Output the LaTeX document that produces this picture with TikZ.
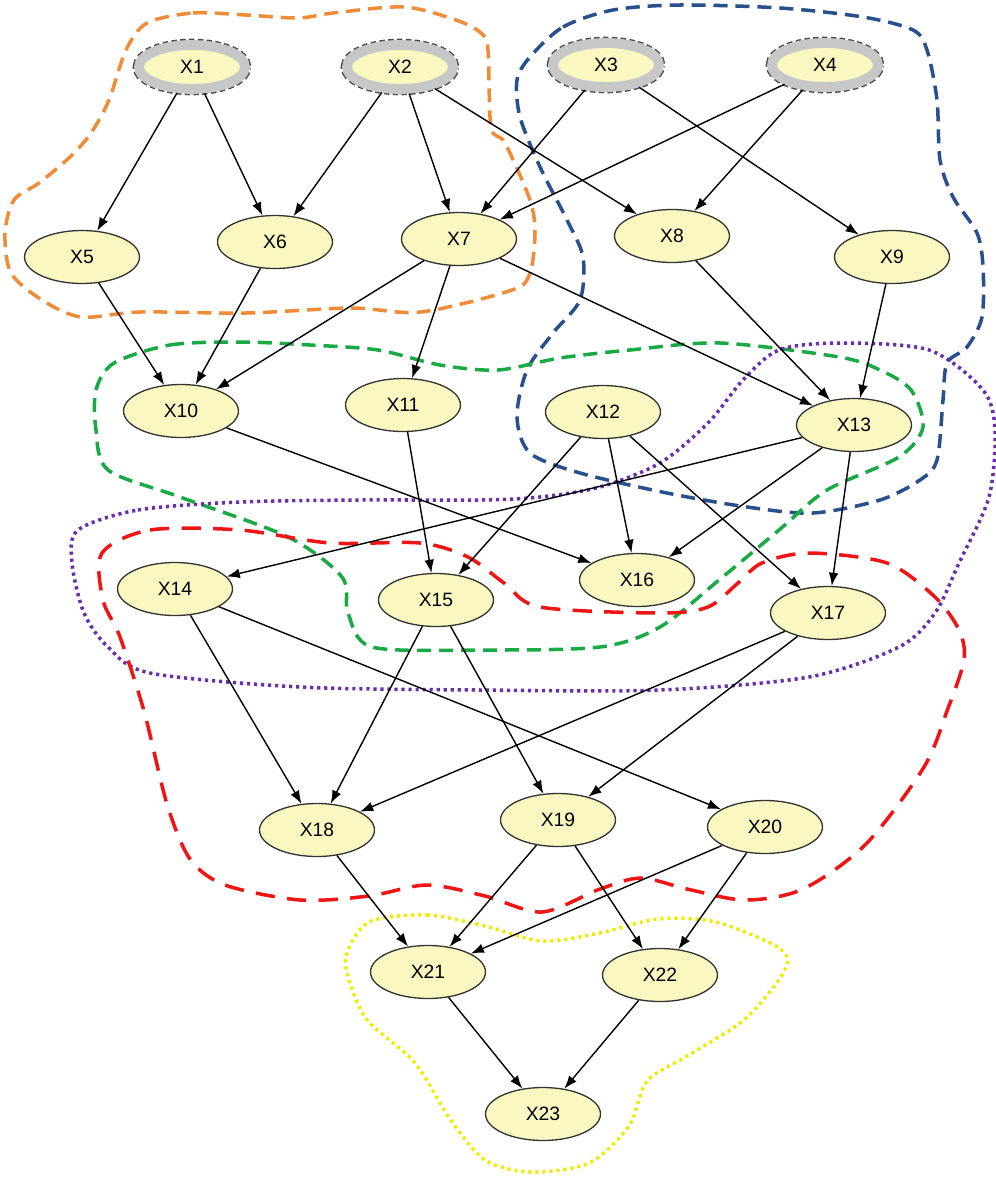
\documentclass[tikz,border=0pt]{standalone}
\usepackage{fontspec}
\setmainfont{Liberation Sans}
\usepackage{xcolor}
\usetikzlibrary{arrows.meta,shapes.geometric}

\definecolor{nodefill}{RGB}{250,248,192}
\definecolor{hullorange}{RGB}{240,140,55}
\definecolor{hullblue}{RGB}{40,80,140}
\definecolor{hullgreen}{RGB}{25,170,70}
\definecolor{hullpurple}{RGB}{105,45,175}
\definecolor{hullred}{RGB}{240,20,20}
\definecolor{hullyellow}{RGB}{240,235,0}

\begin{document}
\begin{tikzpicture}[x=0.02cm, y=-0.02cm, >={Latex[length=7.5pt,width=5.5pt]},
  var/.style={ellipse,draw=black!80,line width=0.75pt,fill=nodefill,inner sep=0pt,
    minimum width=2.3cm,minimum height=1.06cm,font=\fontsize{11}{13}\selectfont},
  root/.style={ellipse,draw=black!22,line width=5.6pt,fill=nodefill,inner sep=0pt,
    minimum width=2.12cm,minimum height=0.88cm,font=\fontsize{11}{13}\selectfont,
    preaction={draw=black!70,line width=7.2pt,dash pattern=on 3pt off 1.8pt}},
  edge/.style={->,line width=0.8pt},
  hull/.style={line width=2pt}]
\useasboundingbox (0,0) rectangle (996,1177);

% cluster outlines
\draw[hull,hullorange,dash pattern=on 8pt off 4.5pt] plot[smooth cycle] coordinates {
  (147,23) (193,13) (246,15) (298,18) (333,13) (404,7) (456,20) (481,33) (488,50)
  (491,127) (505,143) (530,200) (535,233) (530,273) (512,290) (421,312) (351,308)
  (246,313) (140,312) (81,317) (42,300) (11,273) (5,233) (14,200) (39,183) (70,157)
  (91,133) (109,100) (126,50)};
\draw[hull,hullblue,dash pattern=on 8pt off 4.5pt] plot[smooth cycle] coordinates {
  (530,57) (563,27) (613,10) (680,5) (780,8) (863,17) (913,30) (927,50) (937,100)
  (940,160) (953,197) (977,233) (983,267) (982,317) (967,347) (947,363) (943,400)
  (937,460) (920,480) (880,500) (813,513) (747,507) (667,493) (580,473) (530,453)
  (517,417) (527,370) (553,333) (580,300) (583,257) (567,220) (540,167) (520,117)
  (517,80)};
\draw[hull,hullgreen,dash pattern=on 8pt off 4.5pt] plot[smooth cycle] coordinates {
  (114,363) (170,345) (240,342) (310,345) (378,350) (440,365) (498,370) (560,358)
  (630,350) (720,343) (839,357) (880,370) (911,390) (923,427) (899,457) (827,490)
  (779,530) (719,580) (660,627) (600,647) (480,650) (372,647) (348,613) (342,577)
  (288,537) (180,497) (108,470) (96,430) (96,390)};
\draw[hull,hullpurple,dash pattern=on 1.8pt off 2.2pt] plot[smooth cycle] coordinates {
  (78,530) (138,510) (240,502) (360,500) (480,500) (540,497) (600,487) (660,463)
  (708,423) (743,380) (779,350) (839,343) (929,350) (983,390) (995,430) (989,497)
  (959,563) (935,613) (899,647) (809,677) (660,690) (480,690) (300,687) (150,673)
  (108,647) (84,613) (72,563)};
\draw[hull,hullred,dash pattern=on 11pt off 7pt] plot[smooth cycle] coordinates {
  (102,553) (150,530) (240,530) (330,543) (420,543) (468,557) (504,583) (540,607)
  (660,613) (708,607) (738,583) (762,563) (809,553) (887,563) (935,597) (959,630)
  (964,660) (947,711) (924,767) (866,844) (803,889) (745,900) (687,889) (641,878)
  (600,889) (542,912) (485,896) (427,885) (369,896) (300,900) (225,885) (190,859)
  (167,804) (144,711) (120,637) (103,600)};
\draw[hull,hullyellow,dash pattern=on 1.8pt off 2.2pt] plot[smooth cycle] coordinates {
  (369,922) (427,915) (485,926) (542,941) (600,933) (658,919) (716,922) (779,948)
  (785,970) (745,1019) (687,1056) (647,1081) (629,1126) (589,1163) (531,1172)
  (485,1160) (450,1119) (415,1063) (369,1022) (352,989) (346,956)};

% variables
\node[root] (x1) at (192,67) {X1};
\node[root] (x2) at (400,67) {X2};
\node[root] (x3) at (606,65) {X3};
\node[root] (x4) at (825,65) {X4};

\node[var] (x5) at (82,257) {X5};
\node[var] (x6) at (275,242) {X6};
\node[var] (x7) at (459,239) {X7};
\node[var] (x8) at (672,236) {X8};
\node[var] (x9) at (892,257) {X9};

\node[var] (x10) at (181,411) {X10};
\node[var] (x11) at (403,405) {X11};
\node[var] (x12) at (603,412) {X12};
\node[var] (x13) at (854,425) {X13};

\node[var] (x14) at (175,589) {X14};
\node[var] (x15) at (436,600) {X15};
\node[var] (x16) at (637,580) {X16};
\node[var] (x17) at (828,613) {X17};

\node[var] (x18) at (317,830) {X18};
\node[var] (x19) at (558,820) {X19};
\node[var] (x20) at (765,827) {X20};

\node[var] (x21) at (428,972) {X21};
\node[var] (x22) at (660,975) {X22};

\node[var] (x23) at (543,1114) {X23};

% dependencies
\draw[edge] (x1) -- (x5);
\draw[edge] (x1) -- (x6);
\draw[edge] (x2) -- (x6);
\draw[edge] (x2) -- (x7);
\draw[edge] (x2) -- (x8);
\draw[edge] (x3) -- (x7);
\draw[edge] (x3) -- (x9);
\draw[edge] (x4) -- (x7);
\draw[edge] (x4) -- (x8);

\draw[edge] (x5) -- (x10);
\draw[edge] (x6) -- (x10);
\draw[edge] (x7) -- (x10);
\draw[edge] (x7) -- (x11);
\draw[edge] (x7) -- (x13);
\draw[edge] (x8) -- (x13);
\draw[edge] (x9) -- (x13);

\draw[edge] (x10) -- (x16);
\draw[edge] (x11) -- (x15);
\draw[edge] (x12) -- (x15);
\draw[edge] (x12) -- (x16);
\draw[edge] (x12) -- (x17);
\draw[edge] (x13) -- (x14);
\draw[edge] (x13) -- (x16);
\draw[edge] (x13) -- (x17);

\draw[edge] (x14) -- (x18);
\draw[edge] (x14) -- (x20);
\draw[edge] (x15) -- (x18);
\draw[edge] (x15) -- (x19);
\draw[edge] (x17) -- (x18);
\draw[edge] (x17) -- (x19);

\draw[edge] (x18) -- (x21);
\draw[edge] (x19) -- (x21);
\draw[edge] (x19) -- (x22);
\draw[edge] (x20) -- (x21);
\draw[edge] (x20) -- (x22);

\draw[edge] (x21) -- (x23);
\draw[edge] (x22) -- (x23);

\end{tikzpicture}
\end{document}
